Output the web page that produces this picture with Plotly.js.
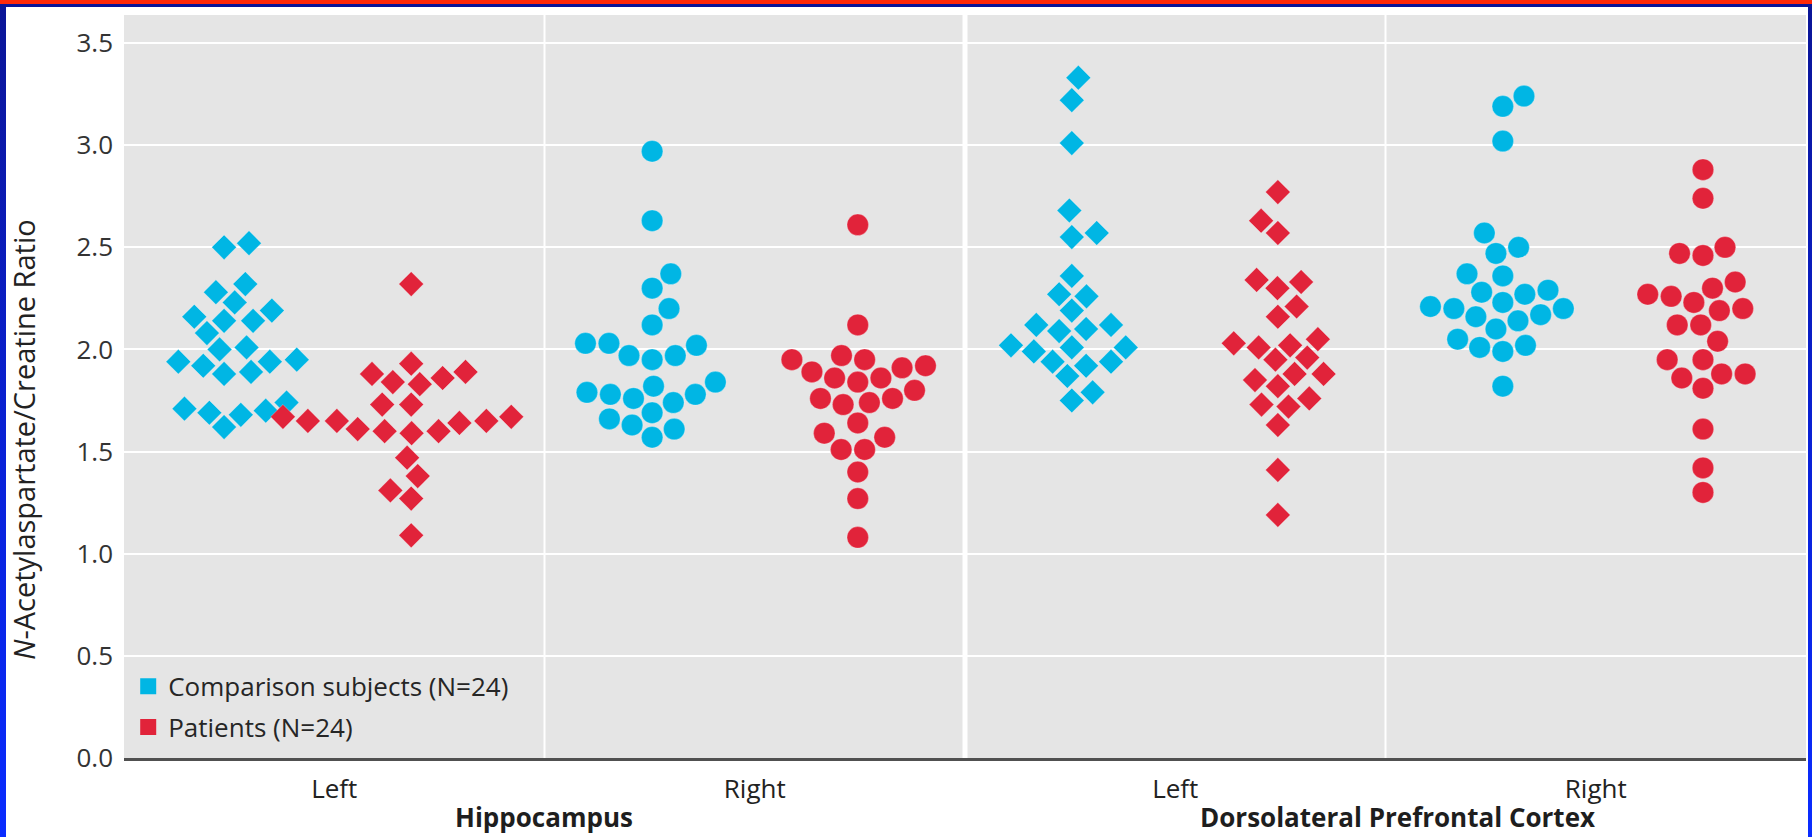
<!DOCTYPE html>
<html>
<head>
<meta charset="utf-8">
<script src="https://cdn.plot.ly/plotly-3.0.1.min.js"></script>
<style>
  html, body { margin: 0; padding: 0; }
  body { width: 1812px; height: 837px; overflow: hidden; position: relative;
         background: linear-gradient(to bottom, #0b1596 0%, #0a22d8 55%, #0a2cff 100%); }
  #redstrip { position: absolute; left: 0; top: 0; width: 1812px; height: 4px; background: #ff2a08; }
  #sheet { position: absolute; left: 6px; top: 7px; width: 1802px; height: 830px; background: #ffffff; }
  #chart { position: absolute; left: 0; top: 0; width: 1812px; height: 837px; }
</style>
</head>
<body>
<div id="redstrip"></div>
<div id="sheet"></div>
<div id="chart"></div>
<script>
// ---------------- data ----------------
const regions = ['Hippocampus', 'Dorsolateral Prefrontal Cortex'];
const sides = ['Left', 'Right', 'Left', 'Right'];

const hippoLeftControls  = [2.52, 2.50, 2.32, 2.28, 2.23, 2.14, 2.19, 2.14, 2.16, 2.08, 2.01, 2.00, 1.94, 1.95, 1.89, 1.92, 1.94, 1.88, 1.68, 1.70, 1.74, 1.71, 1.69, 1.62];
const hippoLeftPatients  = [2.32, 1.93, 1.83, 1.86, 1.89, 1.88, 1.84, 1.65, 1.61, 1.67, 1.60, 1.67, 1.73, 1.65, 1.73, 1.64, 1.60, 1.65, 1.59, 1.47, 1.38, 1.31, 1.27, 1.09];
const hippoRightControls = [2.97, 2.63, 2.37, 2.30, 2.20, 2.12, 2.02, 2.03, 2.03, 1.97, 1.97, 1.95, 1.84, 1.76, 1.78, 1.82, 1.79, 1.78, 1.74, 1.69, 1.66, 1.63, 1.61, 1.57];
const hippoRightPatients = [2.61, 2.12, 1.95, 1.97, 1.95, 1.92, 1.91, 1.89, 1.86, 1.84, 1.86, 1.80, 1.76, 1.74, 1.73, 1.76, 1.64, 1.57, 1.59, 1.51, 1.51, 1.40, 1.27, 1.08];
const dlpfcLeftControls  = [3.33, 3.22, 3.01, 2.68, 2.55, 2.57, 2.36, 2.26, 2.27, 2.19, 2.12, 2.12, 2.10, 2.09, 2.02, 1.99, 2.01, 2.01, 1.92, 1.94, 1.94, 1.87, 1.79, 1.75];
const dlpfcLeftPatients  = [2.77, 2.63, 2.57, 2.34, 2.33, 2.30, 2.21, 2.16, 2.05, 2.02, 2.03, 2.01, 1.95, 1.96, 1.88, 1.85, 1.88, 1.82, 1.73, 1.72, 1.76, 1.63, 1.41, 1.19];
const dlpfcRightControls = [3.24, 3.19, 3.02, 2.57, 2.50, 2.47, 2.37, 2.36, 2.29, 2.28, 2.27, 2.20, 2.23, 2.20, 2.21, 2.17, 2.16, 2.14, 2.10, 2.05, 2.01, 1.99, 2.02, 1.82];
const dlpfcRightPatients = [2.88, 2.74, 2.50, 2.47, 2.46, 2.33, 2.30, 2.27, 2.26, 2.23, 2.20, 2.19, 2.12, 2.12, 2.04, 1.95, 1.95, 1.88, 1.86, 1.88, 1.81, 1.61, 1.42, 1.30];

const controlsByCategory = [hippoLeftControls, hippoRightControls, dlpfcLeftControls, dlpfcRightControls];
const patientsByCategory = [hippoLeftPatients, hippoRightPatients, dlpfcLeftPatients, dlpfcRightPatients];
const groupNames = ['Comparison subjects (N=24)', 'Patients (N=24)'];
const yTicks = [0, 0.5, 1, 1.5, 2, 2.5, 3, 3.5];

// ---------------- layout / style constants ----------------
const W = 1812, H = 837;
const M = {l: 124, r: 6, t: 15, b: 79};
const X_RANGE = [-0.5, 3.5];
const Y_RANGE = [0, 3.637];
const plotW = W - M.l - M.r, plotH = H - M.t - M.b;
const pxPerX = plotW / (X_RANGE[1] - X_RANGE[0]);
const pxPerY = plotH / (Y_RANGE[1] - Y_RANGE[0]);
// column anchor (in category units) of each group inside each category
const slotOffset = [[-0.262, 0.183], [-0.244, 0.245], [-0.246, 0.244], [-0.221, 0.255]];
const symbolBySide = {Left: 'diamond', Right: 'circle'};
const sizeBySymbol = {diamond: 19, circle: 21.5};
const swarmGap = {diamond: 29, circle: 23.5};   // collision distance in px
const BLUE = '#00b6e4', RED = '#e1233a';
const FONT = 'Open Sans, Noto Sans, sans-serif';

// simple beeswarm: pixel offsets so that markers do not collide
function swarmOffsets(values, symbol) {
  const d = swarmGap[symbol];
  const order = values.map((v, i) => i).sort((a, b) => values[a] - values[b]);
  const placed = [];
  const out = new Array(values.length);
  let flip = 1;
  order.forEach(i => {
    const y = values[i] * pxPerY;
    const near = placed.filter(p => Math.abs(p.y - y) < d);
    const cands = [0];
    near.forEach(p => {
      const dy = Math.abs(p.y - y);
      const dx = symbol === 'diamond' ? d - dy : Math.sqrt(d * d - dy * dy);
      cands.push(p.x + dx, p.x - dx);
    });
    cands.sort((a, b) => (Math.abs(a) - Math.abs(b)) || (flip * (a - b)));
    const ok = c => near.every(p => {
      const dy = Math.abs(p.y - y), dx = Math.abs(p.x - c);
      return symbol === 'diamond' ? dx + dy >= d - 1e-6 : dx * dx + dy * dy >= d * d - 1e-6;
    });
    const x = cands.find(ok);
    flip = -flip;
    placed.push({x: x, y: y});
    out[i] = x;
  });
  return out;
}

function buildTrace(byCategory, groupIndex, color) {
  const xs = [], ys = [], syms = [], sizes = [];
  byCategory.forEach((vals, c) => {
    const sym = symbolBySide[sides[c]];
    const offs = swarmOffsets(vals, sym);
    vals.forEach((v, i) => {
      xs.push(c + slotOffset[c][groupIndex] + offs[i] / pxPerX);
      ys.push(v);
      syms.push(sym);
      sizes.push(sizeBySymbol[sym]);
    });
  });
  return {
    type: 'scatter', mode: 'markers', x: xs, y: ys, showlegend: false,
    name: groupNames[groupIndex], hoverinfo: 'y',
    marker: {color: color, opacity: 1, symbol: syms, size: sizes,
             line: {color: 'rgba(255,255,255,0.35)', width: 0.8}}
  };
}

const traces = [
  buildTrace(controlsByCategory, 0, BLUE),
  buildTrace(patientsByCategory, 1, RED),
  {type: 'scatter', mode: 'markers', x: [null], y: [null], name: groupNames[0], legendgroup: 'a',
   marker: {color: BLUE, symbol: 'square', size: 16, opacity: 1}},
  {type: 'scatter', mode: 'markers', x: [null], y: [null], name: groupNames[1], legendgroup: 'b',
   marker: {color: RED, symbol: 'square', size: 16, opacity: 1}}
];

const regionCenterPx = [544, 1397];
const layout = {
  width: W, height: H,
  margin: {l: M.l, r: M.r, t: M.t, b: M.b, pad: 0},
  paper_bgcolor: 'rgba(0,0,0,0)',
  plot_bgcolor: '#e5e5e5',
  font: {family: FONT, color: '#2a2a2a'},
  showlegend: true,
  legend: {x: 0.0025, y: 0.128, xanchor: 'left', yanchor: 'top', bgcolor: 'rgba(0,0,0,0)',
           font: {family: FONT, size: 26, color: '#262626'}, traceorder: 'grouped', tracegroupgap: 4},
  xaxis: {range: X_RANGE, tickvals: [0, 1, 2, 3], ticktext: sides, showgrid: false, zeroline: false,
          showline: true, linecolor: '#505050', linewidth: 2.5, ticks: '', ticklabelstandoff: 6,
          tickfont: {family: FONT, size: 26, color: '#222'}, fixedrange: true},
  yaxis: {range: Y_RANGE, tickvals: yTicks, ticktext: yTicks.map(v => v.toFixed(1)), showgrid: true,
          gridcolor: '#ffffff', gridwidth: 2, zeroline: false, showline: false, ticks: '',
          ticklabelstandoff: 10, tickfont: {family: FONT, size: 26, color: '#333'}, fixedrange: true},
  shapes: [
    {type: 'line', xref: 'x', yref: 'paper', x0: 0.5, x1: 0.5, y0: 0, y1: 1, line: {color: '#ffffff', width: 2}, layer: 'below'},
    {type: 'line', xref: 'x', yref: 'paper', x0: 1.5, x1: 1.5, y0: 0, y1: 1, line: {color: '#ffffff', width: 5}, layer: 'below'},
    {type: 'line', xref: 'x', yref: 'paper', x0: 2.5, x1: 2.5, y0: 0, y1: 1, line: {color: '#ffffff', width: 2}, layer: 'below'}
  ],
  annotations: [
    {text: '<i>N</i>-Acetylaspartate/Creatine Ratio', textangle: -90, xref: 'paper', yref: 'paper',
     x: (24 - M.l) / plotW, y: (H - M.b - 440) / plotH, xanchor: 'center', yanchor: 'middle', showarrow: false,
     font: {family: FONT, size: 29, color: '#222'}},
    ...regions.map((r, k) => ({
      text: '<b>' + r + '</b>', xref: 'paper', yref: 'paper',
      x: (regionCenterPx[k] - M.l) / plotW, y: (H - M.b - 817) / plotH,
      xanchor: 'center', yanchor: 'middle', showarrow: false,
      font: {family: FONT, size: 26, color: '#1e1e1e'}
    }))
  ]
};

Plotly.newPlot('chart', traces, layout, {displayModeBar: false, staticPlot: true});
</script>
</body>
</html>
